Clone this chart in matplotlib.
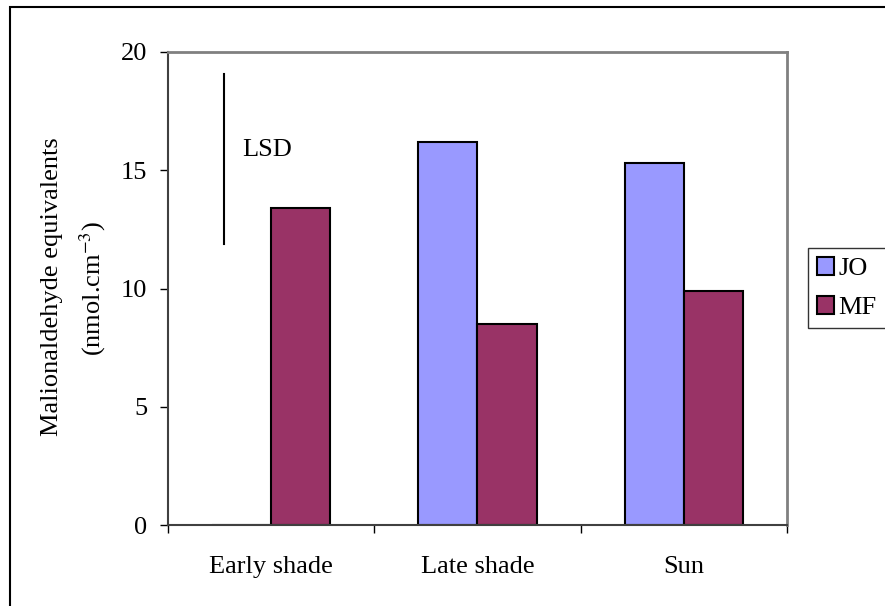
import matplotlib
matplotlib.use("Agg")
import matplotlib.pyplot as plt
from matplotlib.patches import Rectangle, Patch
import numpy as np

categories = ["Early shade", "Late shade", "Sun"]
jo_values = [0.0, 16.2, 15.3]
mf_values = [13.4, 8.5, 9.9]
series_names = ["JO", "MF"]
y_ticks = [0, 5, 10, 15, 20]
lsd_top = 19.05
lsd_bottom = 11.9

plt.rcParams["font.family"] = ["Liberation Serif", "DejaVu Serif"]
plt.rcParams["mathtext.fontset"] = "stix"
fs = 19

fig = plt.figure(figsize=(8.85, 6.06), dpi=100)
ax = fig.add_axes([168 / 885, 1 - 525 / 606, (787 - 168) / 885, (525 - 52) / 606])

x = np.arange(len(categories))
width = 0.286
ax.bar(x - width / 2, jo_values, width, color="#9999FF", edgecolor="black",
       linewidth=1.5, label=series_names[0])
ax.bar(x + width / 2, mf_values, width, color="#993366", edgecolor="black",
       linewidth=1.5, label=series_names[1])

# LSD bar in the first group
ax.plot([-0.229, -0.229], [lsd_bottom, lsd_top], color="black", linewidth=1.5)
ax.text(-0.14, 15.85, "LSD", fontsize=fs, va="center", ha="left")

ax.set_xlim(-0.5, len(categories) - 0.5)
ax.set_ylim(0, 20)
ax.set_yticks(y_ticks)
ax.set_yticklabels([str(v) for v in y_ticks], fontsize=fs)
ax.tick_params(axis="y", length=5.8, width=1, pad=9, direction="out")

# category boundaries as ticks, names centred between them
ax.set_xticks(np.arange(len(categories) + 1) - 0.5)
ax.set_xticklabels([])
ax.set_xticks(x, minor=True)
ax.set_xticklabels(categories, minor=True, fontsize=fs)
ax.tick_params(axis="x", which="major", length=6, width=1, direction="out")
ax.tick_params(axis="x", which="minor", length=0, pad=22)

for side in ["left", "bottom"]:
    ax.spines[side].set_color("#404040")
    ax.spines[side].set_linewidth(1.5)
for side in ["top", "right"]:
    ax.spines[side].set_color("#808080")
    ax.spines[side].set_linewidth(2)

fig.text(52 / 885, 1 - 287 / 606, "Malionaldehyde equivalents", rotation=90,
         ha="center", va="center", fontsize=fs)
fig.text(93 / 885, 1 - 289 / 606, "(nmol.cm$^{\\mathrm{-3}}$)", rotation=90,
         ha="center", va="center", fontsize=fs)

handles = [Patch(facecolor="#9999FF", edgecolor="black", linewidth=1.5),
           Patch(facecolor="#993366", edgecolor="black", linewidth=1.5)]
leg = fig.legend(handles, series_names, loc="center left",
                 bbox_to_anchor=(808 / 885, 1 - 288 / 606), fontsize=fs,
                 frameon=True, fancybox=False, handlelength=0.65,
                 handleheight=0.65, handletextpad=0.15, borderpad=0.35,
                 labelspacing=0.6, borderaxespad=0)
leg.get_frame().set_edgecolor("black")
leg.get_frame().set_linewidth(1)

# outer chart border
fig.patches.append(Rectangle((10 / 885, -0.01), 1.0, 1 - 7 / 606 + 0.01,
                             transform=fig.transFigure, fill=False,
                             edgecolor="black", linewidth=1.5))

fig.savefig("out.png", dpi=100)
